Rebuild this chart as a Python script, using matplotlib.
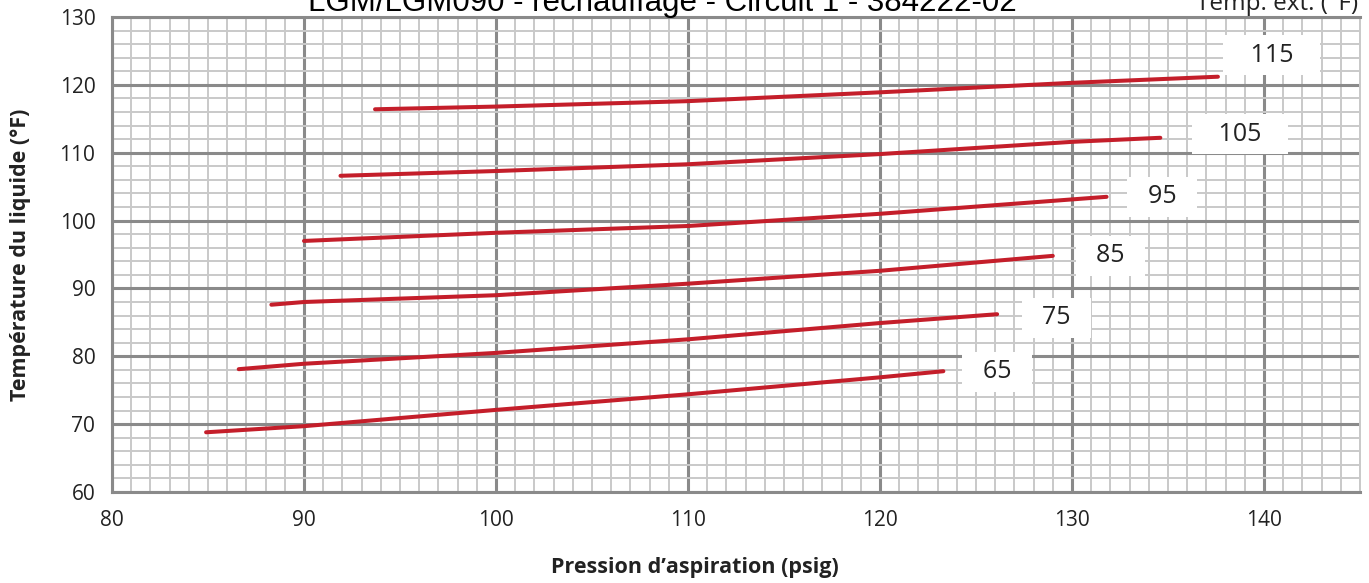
import matplotlib
matplotlib.use("Agg")
import matplotlib.pyplot as plt
from matplotlib.ticker import MultipleLocator

plt.rcParams["font.family"] = ["Open Sans", "DejaVu Sans"]

# Outdoor temperature curves (°F): suction pressure (psig) vs liquid temperature (°F)
OUTDOOR_TEMPS = ["65", "75", "85", "95", "105", "115"]

P_65 = [84.9, 90.0, 100.0, 110.0, 120.0, 123.3]
T_65 = [68.8, 69.7, 72.1, 74.4, 76.9, 77.8]

P_75 = [86.6, 90.0, 100.0, 110.0, 120.0, 126.1]
T_75 = [78.1, 78.9, 80.5, 82.5, 84.9, 86.2]

P_85 = [88.3, 90.0, 100.0, 110.0, 120.0, 129.0]
T_85 = [87.6, 88.0, 89.0, 90.7, 92.6, 94.8]

P_95 = [90.0, 100.0, 110.0, 120.0, 131.8]
T_95 = [97.0, 98.2, 99.2, 101.0, 103.5]

P_105 = [91.9, 100.0, 110.0, 120.0, 130.0, 134.6]
T_105 = [106.6, 107.3, 108.3, 109.8, 111.6, 112.2]

P_115 = [93.7, 100.0, 110.0, 120.0, 130.0, 137.6]
T_115 = [116.4, 116.8, 117.6, 118.9, 120.3, 121.2]

# label anchors (x, y) in data units
LABEL_X = [126.1, 129.2, 132.0, 134.7, 138.75, 140.4]
LABEL_Y = [77.7, 85.7, 94.8, 103.5, 112.7, 124.4]

CURVES = [(P_65, T_65), (P_75, T_75), (P_85, T_85),
          (P_95, T_95), (P_105, T_105), (P_115, T_115)]

RED = "#c41e2a"
MAJOR = "#8a8a8a"
MINOR = "#c9c9c9"
TXT = "#222222"

W, H = 1369, 583
fig = plt.figure(figsize=(W / 100, H / 100), dpi=100)
ax = fig.add_axes([112 / W, (H - 492) / H, 1248 / W, 475 / H])

ax.set_xlim(80, 145)
ax.set_ylim(60, 130)
ax.xaxis.set_major_locator(MultipleLocator(10))
ax.xaxis.set_minor_locator(MultipleLocator(1))
ax.yaxis.set_major_locator(MultipleLocator(10))
ax.yaxis.set_minor_locator(MultipleLocator(2))

ax.grid(which="minor", color=MINOR, linewidth=1.4, zorder=0)
ax.grid(which="major", color=MAJOR, linewidth=2.2, zorder=1)
ax.set_axisbelow(True)

for side in ["left", "bottom", "top"]:
    ax.spines[side].set_color(MAJOR)
    ax.spines[side].set_linewidth(2.2)
ax.spines["right"].set_color(MINOR)
ax.spines["right"].set_linewidth(1.4)

ax.tick_params(which="both", length=0)
ax.tick_params(axis="x", labelsize=15, colors=TXT, pad=13)
ax.tick_params(axis="y", labelsize=15, colors=TXT, pad=12)

for (p, t), lab, lx, ly in zip(CURVES, OUTDOOR_TEMPS, LABEL_X, LABEL_Y):
    ax.plot(p, t, color=RED, linewidth=2.9, solid_capstyle="round", zorder=3)
    pad = " " * len(lab)
    ax.text(lx, ly, pad + lab + pad, ha="center", va="center", fontsize=18,
            color=TXT, zorder=4,
            bbox=dict(boxstyle="square,pad=0.3", facecolor="white",
                      edgecolor="none"))

ax.set_xlabel("Pression d’aspiration (psig)", fontsize=15.5, fontweight="bold",
              color=TXT, va="center")
ax.xaxis.set_label_coords(0.467, -0.158)
ax.set_ylabel("Température du liquide (°F)", fontsize=15.5, fontweight="bold",
              color=TXT, va="center")
ax.yaxis.set_label_coords(-0.0737, 0.5)

fig.text(662 / W, 1 - 11 / H, "LGM/LGM090 - réchauffage - Circuit 1 - 384222-02",
         ha="center", va="baseline", fontsize=22.5, family="Liberation Sans")
fig.text(1358 / W, 1 - 10 / H, "Temp. ext. (°F)", ha="right", va="baseline",
         fontsize=17.5, color=TXT)

fig.savefig("out.png", dpi=100)
